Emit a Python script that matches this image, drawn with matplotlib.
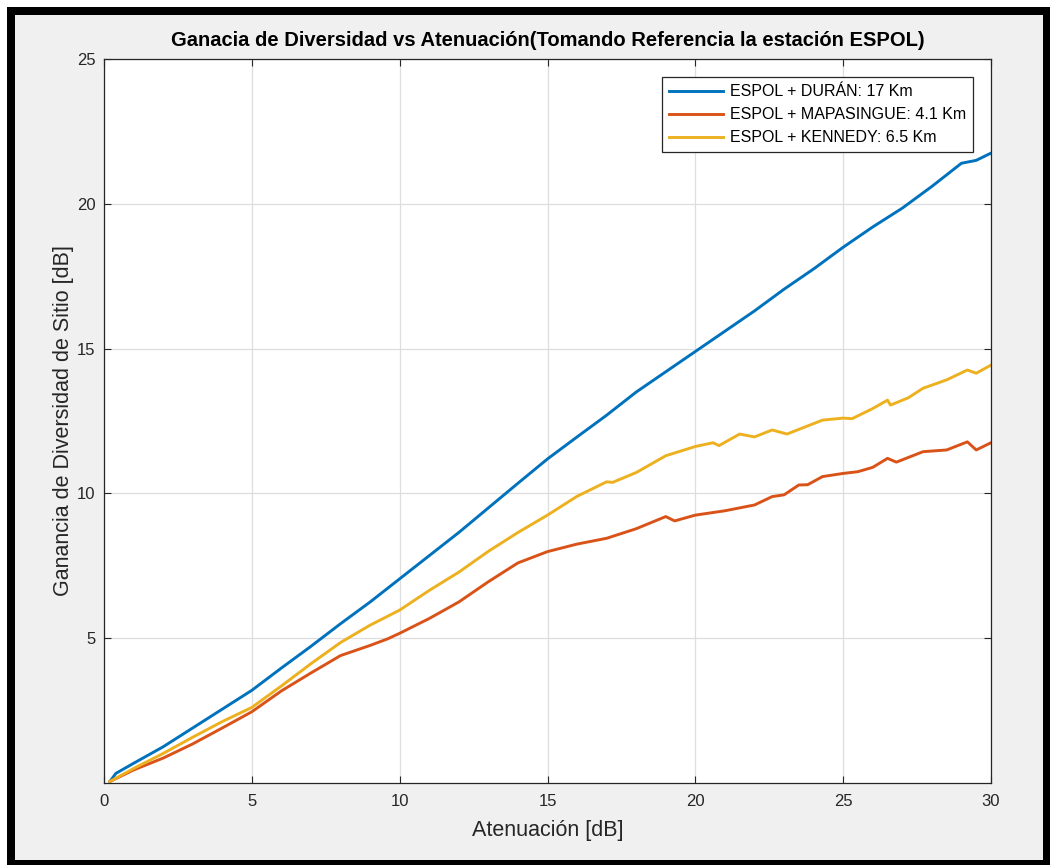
import matplotlib
matplotlib.use("Agg")
import matplotlib.pyplot as plt
from matplotlib.patches import Rectangle

plt.rcParams['font.family'] = ['Liberation Sans', 'DejaVu Sans']

# ---- data ----
x_duran = [0.2, 0.4, 1, 2, 3, 4, 5, 6, 7, 8, 9, 10, 11, 12, 13, 14, 15, 16, 17, 18, 19,
           20, 21, 22, 23, 24, 25, 26, 27, 28, 29, 29.5, 30]
y_duran = [0.05, 0.33, 0.68, 1.25, 1.9, 2.55, 3.2, 3.97, 4.72, 5.5, 6.25, 7.05, 7.85, 8.65,
           9.5, 10.35, 11.19, 11.95, 12.7, 13.5, 14.2, 14.9, 15.6, 16.3, 17.05, 17.75, 18.5,
           19.2, 19.85, 20.6, 21.4, 21.5, 21.75]

x_mapa = [0.2, 1, 2, 3, 4, 5, 6, 7, 8, 9, 9.6, 10, 11, 12, 13, 14, 15, 16, 17, 18, 19, 19.3,
          20, 21, 22, 22.6, 23, 23.5, 23.8, 24.3, 25, 25.5, 26, 26.5, 26.8, 27.7, 28.5, 29.2,
          29.5, 30]
y_mapa = [0.05, 0.45, 0.86, 1.35, 1.9, 2.46, 3.18, 3.8, 4.4, 4.75, 4.98, 5.17, 5.68, 6.25,
          6.95, 7.6, 7.99, 8.25, 8.45, 8.78, 9.2, 9.05, 9.25, 9.4, 9.6, 9.89, 9.95, 10.29,
          10.3, 10.58, 10.69, 10.75, 10.9, 11.21, 11.08, 11.44, 11.5, 11.78, 11.5, 11.75]

x_kennedy = [0.2, 1, 2, 3, 4, 5, 6, 7, 8, 9, 10, 11, 12, 13, 14, 15, 16, 17, 17.2, 18, 19,
             20, 20.6, 20.8, 21.5, 22, 22.6, 23.1, 23.8, 24.3, 25, 25.3, 26, 26.5, 26.6,
             27.2, 27.7, 28.5, 29.2, 29.5, 30]
y_kennedy = [0.05, 0.5, 1.02, 1.58, 2.12, 2.61, 3.35, 4.12, 4.85, 5.45, 5.97, 6.65, 7.28,
             8.0, 8.65, 9.25, 9.9, 10.4, 10.38, 10.72, 11.3, 11.62, 11.75, 11.65, 12.05,
             11.95, 12.19, 12.05, 12.33, 12.53, 12.6, 12.58, 12.93, 13.22, 13.05, 13.3,
             13.63, 13.92, 14.26, 14.15, 14.43]

labels = ['ESPOL + DURÁN: 17 Km', 'ESPOL + MAPASINGUE: 4.1 Km', 'ESPOL + KENNEDY: 6.5 Km']
colors = ['#0072BD', '#D95319', '#EDB120']
xticks = [0, 5, 10, 15, 20, 25, 30]
yticks = [5, 10, 15, 20, 25]

W, H = 1050, 865
fig = plt.figure(figsize=(W / 100, H / 100), dpi=100, facecolor='white')

# outer frame: black border then MATLAB gray background
fig.patches.append(Rectangle((7 / W, 0), 1 - 7 / W, 1 - 7 / H, transform=fig.transFigure,
                             facecolor='black', edgecolor='none', zorder=-2))
fig.patches.append(Rectangle((15 / W, 5 / H), (1043 - 15) / W, (860 - 15) / H,
                             transform=fig.transFigure, facecolor='#f0f0f0',
                             edgecolor='none', zorder=-1))

ax = fig.add_axes([104 / W, (H - 783) / H, 887 / W, 724 / H])
ax.set_facecolor('white')

for xs, ys, c, lab in zip([x_duran, x_mapa, x_kennedy], [y_duran, y_mapa, y_kennedy],
                          colors, labels):
    ax.plot(xs, ys, color=c, lw=2.1, label=lab)

ax.set_xlim(0, 30)
ax.set_ylim(0, 25)
ax.set_xticks(xticks)
ax.set_yticks(yticks)
ax.grid(True, color='#dedede', lw=0.9)
ax.set_axisbelow(True)
ax.tick_params(direction='in', top=True, right=True, length=5, width=0.8,
               colors='#262626', labelsize=12)
ax.tick_params(axis='y', pad=6)
ax.tick_params(axis='x', pad=8)
for s in ax.spines.values():
    s.set_color('#262626')
    s.set_linewidth(0.9)

ax.set_xlabel('Atenuación [dB]', fontsize=15.5, color='#262626', labelpad=8)
ax.set_ylabel('Ganancia de Diversidad de Sitio [dB]', fontsize=15.5, color='#262626',
              labelpad=2)
ax.set_title('Ganacia de Diversidad vs Atenuación(Tomando Referencia la estación ESPOL)',
             fontsize=14.5, fontweight='bold', color='black', pad=9)

leg = ax.legend(loc='upper right', bbox_to_anchor=(973 / W, (H - 77) / H),
                bbox_transform=fig.transFigure, fontsize=11.5, frameon=True,
                fancybox=False, edgecolor='#262626', framealpha=1, handlelength=3.4,
                handletextpad=0.4, borderpad=0.45, labelspacing=0.5, borderaxespad=0)
leg.get_frame().set_linewidth(0.9)

fig.savefig('out.png', dpi=100, facecolor=fig.get_facecolor())
